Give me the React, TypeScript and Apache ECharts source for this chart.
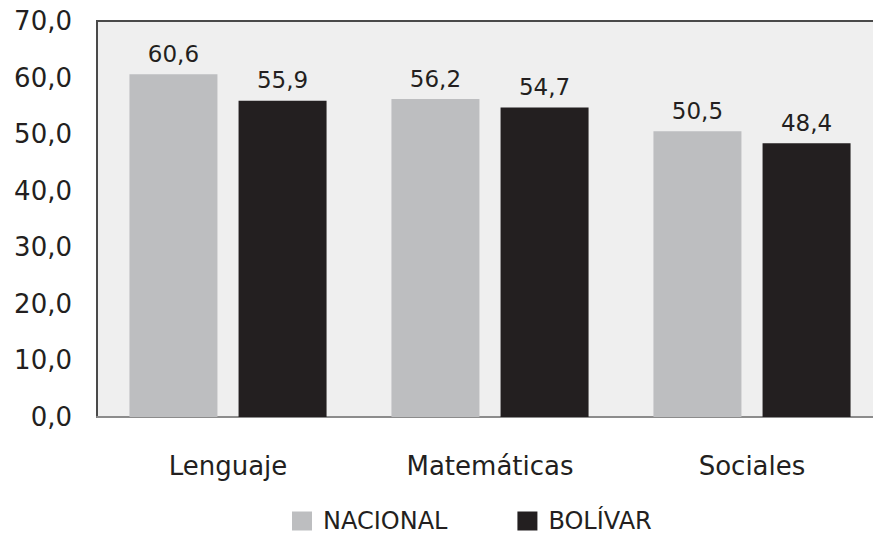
import React, { useEffect, useRef } from "react";
import * as echarts from "echarts";

const categories = ["Lenguaje", "Matemáticas", "Sociales"];
const nacional = [60.6, 56.2, 50.5];
const bolivar = [55.9, 54.7, 48.4];
const seriesNames = ["NACIONAL", "BOLÍVAR"];

const fmt = (v: number) => v.toFixed(1).replace(".", ",");
const FONT = "DejaVu Sans";
const TXT = "#231f20";

export default function App() {
  const ref = useRef<HTMLDivElement>(null);
  useEffect(() => {
    const chart = echarts.init(ref.current!, null, { renderer: "svg" });
    const label = {
      show: true,
      position: "top",
      distance: 9,
      color: TXT,
      fontFamily: FONT,
      fontSize: 23,
      formatter: (p: any) => fmt(p.value),
    };
    chart.setOption({
      animation: false,
      backgroundColor: "#ffffff",
      textStyle: { fontFamily: FONT, color: TXT },
      grid: {
        left: 97,
        top: 21,
        right: 13,
        bottom: 120,
        show: true,
        backgroundColor: "#efefef",
        borderColor: "#4a4a4a",
        borderWidth: 2,
      },
      legend: {
        data: seriesNames,
        left: 287,
        top: 504,
        itemWidth: 20,
        itemHeight: 19,
        itemGap: 70,
        icon: "rect",
        textStyle: {
          fontFamily: FONT,
          fontSize: 24,
          lineHeight: 24,
          color: TXT,
          padding: [0, 0, 0, 6],
        },
      },
      xAxis: {
        type: "category",
        data: categories,
        axisLine: { show: true, lineStyle: { color: "#8c8c8c", width: 2 } },
        axisTick: { show: false },
        axisLabel: {
          fontFamily: FONT,
          fontSize: 26,
          color: TXT,
          margin: 36,
        },
      },
      yAxis: {
        type: "value",
        min: 0,
        max: 70,
        interval: 10,
        axisLine: { show: false },
        axisTick: { show: false },
        splitLine: { show: false },
        axisLabel: {
          fontFamily: FONT,
          fontSize: 26,
          color: TXT,
          margin: 25,
          formatter: (v: number) => fmt(v),
        },
      },
      series: [
        {
          name: seriesNames[0],
          type: "bar",
          data: nacional,
          barWidth: 88,
          barGap: "24%",
          itemStyle: { color: "#bdbec0" },
          label,
        },
        {
          name: seriesNames[1],
          type: "bar",
          data: bolivar,
          barWidth: 88,
          barGap: "24%",
          itemStyle: { color: "#231f20" },
          label,
        },
      ],
    });
    return () => chart.dispose();
  }, []);
  return (
    <div
      style={{
        position: "absolute",
        left: 0,
        top: 0,
        width: 873,
        height: 537,
        overflow: "hidden",
      }}
    >
      <div ref={ref} style={{ width: 896, height: 537 }} />
    </div>
  );
}
